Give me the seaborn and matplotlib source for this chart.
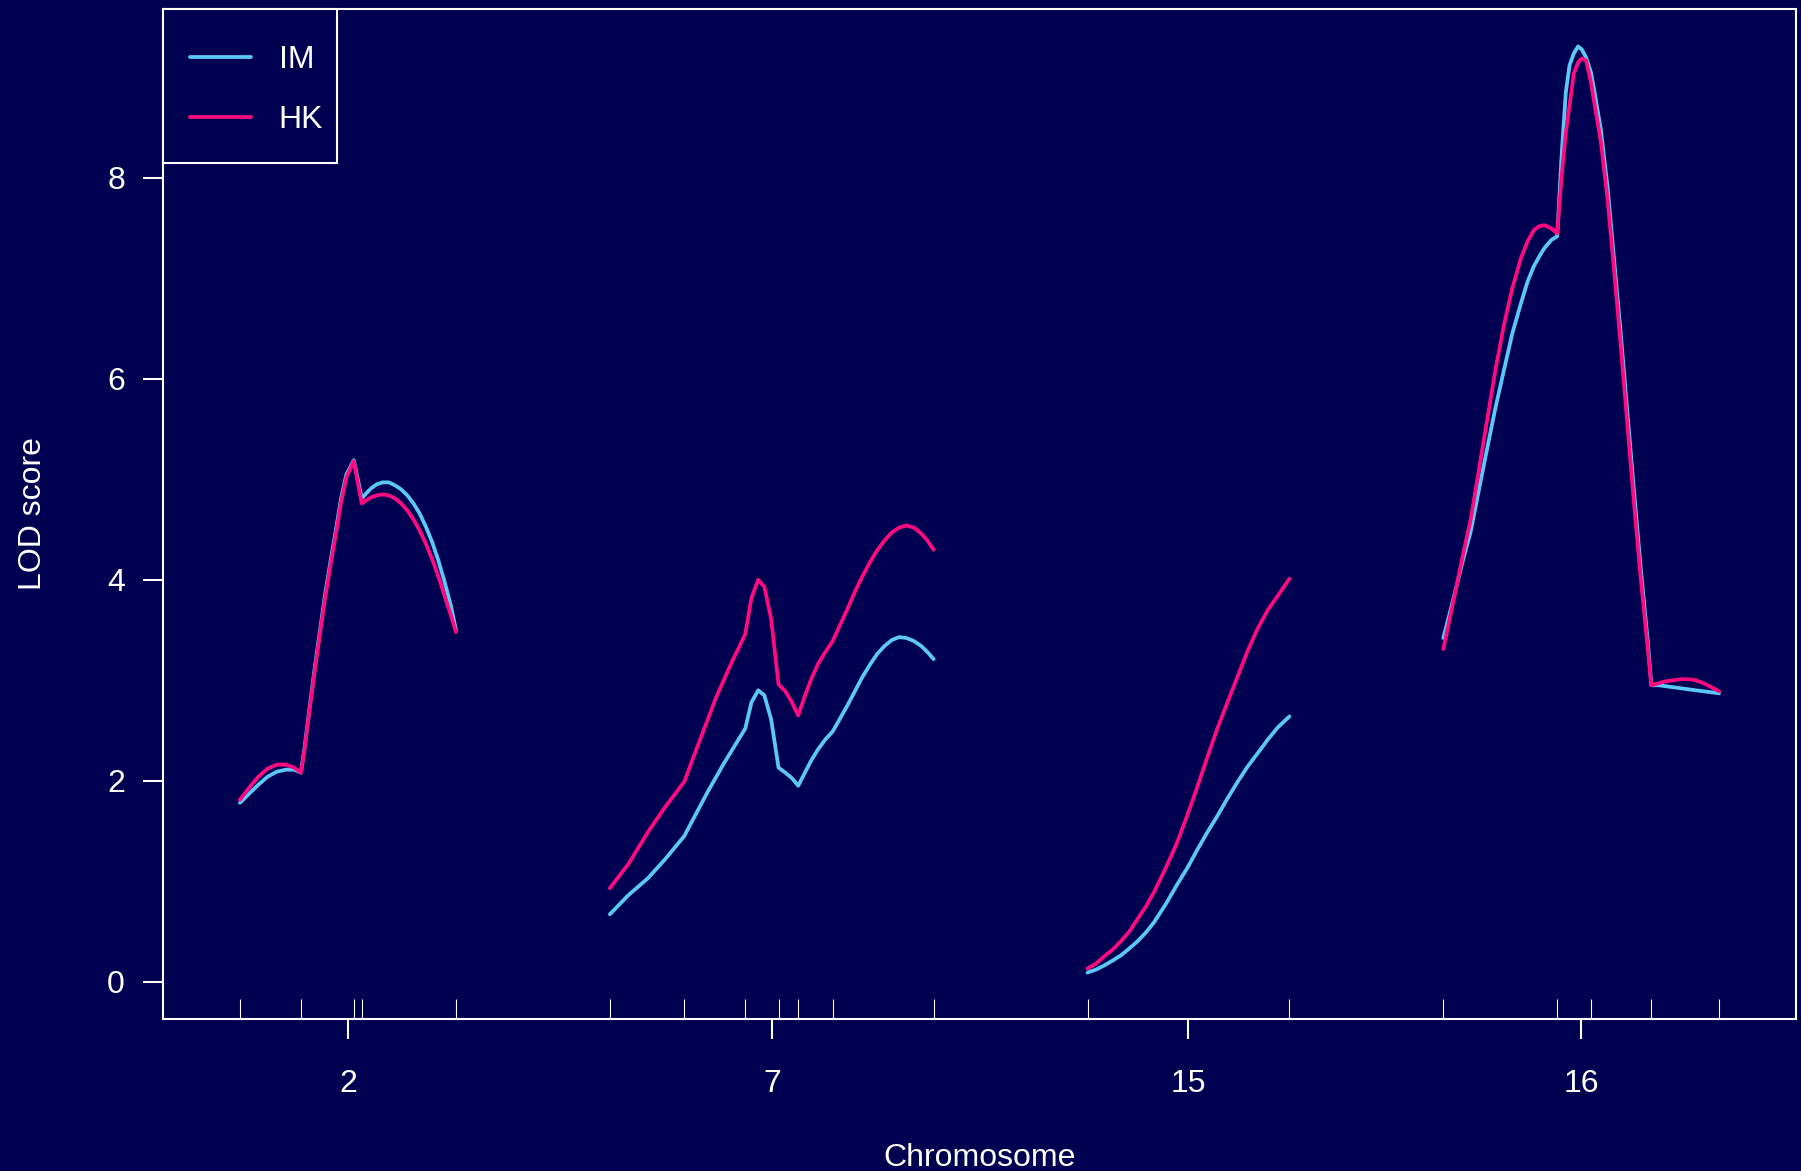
import numpy as np
import pandas as pd
import matplotlib
matplotlib.use("Agg")
import matplotlib.pyplot as plt
from matplotlib.lines import Line2D
from matplotlib.patches import Rectangle
from matplotlib.ticker import FixedLocator
import seaborn as sns

# ---------------- data ----------------
chrom_names = ["2", "7", "15", "16"]
chrom_lengths = [35.1, 52.6, 32.8, 44.8]

markers_2 = [0, 9.9, 18.5, 19.8, 35.1]
markers_7 = [0, 12.1, 22.0, 27.4, 30.6, 36.2, 52.6]
markers_15 = [0, 32.8]
markers_16 = [0, 18.5, 24.0, 33.8, 44.8]

pos_2 = [0, 1.5, 3.0, 4.5, 6.0, 7.5, 8.8, 9.9, 10.5, 11.3, 12.1, 12.9, 13.8, 14.7, 15.6,
         16.4, 17.3, 18.5, 19.8, 20.5, 21.3, 22.2, 23.2, 24.2, 25.2, 26.2, 27.2, 28.2,
         29.2, 30.2, 31.2, 32.2, 33.2, 34.2, 35.1]
im_2 = [1.78, 1.87, 1.96, 2.04, 2.09, 2.11, 2.11, 2.08, 2.33, 2.72, 3.10, 3.45, 3.84, 4.18, 4.50,
        4.80, 5.05, 5.19, 4.81, 4.86, 4.91, 4.95, 4.97, 4.97, 4.94, 4.90, 4.84, 4.76,
        4.66, 4.53, 4.38, 4.20, 3.99, 3.76, 3.50]
hk_2 = [1.81, 1.93, 2.04, 2.12, 2.16, 2.16, 2.13, 2.08, 2.31, 2.70, 3.07, 3.42, 3.80, 4.14, 4.46,
        4.76, 5.02, 5.18, 4.76, 4.79, 4.82, 4.84, 4.85, 4.84, 4.81, 4.76, 4.69, 4.60,
        4.49, 4.36, 4.21, 4.04, 3.85, 3.66, 3.48]

pos_7 = [0, 3.0, 6.2, 9.0, 12.1, 13.3, 14.6, 15.9, 17.2, 18.5, 19.8, 21.0, 22.0, 23.0, 24.1,
         25.1, 26.2, 27.4, 28.5, 29.5, 30.6, 31.6, 32.7, 33.8, 35.0, 36.2, 37.4, 38.6, 39.8,
         41.0, 42.2, 43.4, 44.6, 45.8, 47.0, 48.2, 49.4, 50.6, 51.6, 52.6]
im_7 = [0.67, 0.86, 1.03, 1.22, 1.45, 1.59, 1.74, 1.89, 2.03, 2.17, 2.30, 2.42, 2.52, 2.78, 2.90,
        2.85, 2.61, 2.13, 2.08, 2.03, 1.95, 2.07, 2.20, 2.31, 2.41, 2.49, 2.62, 2.75, 2.89,
        3.03, 3.15, 3.26, 3.34, 3.40, 3.43, 3.42, 3.39, 3.34, 3.28, 3.21]
hk_7 = [0.93, 1.17, 1.49, 1.74, 1.99, 2.19, 2.40, 2.61, 2.82, 3.00, 3.18, 3.33, 3.46, 3.82, 4.00,
        3.93, 3.61, 2.96, 2.89, 2.79, 2.65, 2.83, 3.01, 3.16, 3.28, 3.39, 3.55, 3.71, 3.88,
        4.03, 4.17, 4.29, 4.39, 4.47, 4.52, 4.54, 4.52, 4.46, 4.39, 4.30]

pos_15 = [0, 1.4, 2.7, 4.1, 5.4, 6.8, 8.1, 9.5, 10.8, 12.7, 14.6, 16.3, 17.9, 19.5, 21.1,
          22.8, 24.4, 26.0, 27.6, 29.3, 30.9, 32.8]
im_15 = [0.09, 0.12, 0.16, 0.21, 0.26, 0.33, 0.40, 0.49, 0.59, 0.77, 0.97, 1.14, 1.32, 1.49, 1.65,
         1.83, 1.99, 2.14, 2.27, 2.41, 2.53, 2.64]
hk_15 = [0.13, 0.18, 0.25, 0.32, 0.40, 0.50, 0.62, 0.75, 0.89, 1.13, 1.39, 1.67, 1.95, 2.24, 2.52,
         2.79, 3.04, 3.29, 3.51, 3.70, 3.84, 4.01]

pos_16 = [0, 1.1, 2.2, 3.3, 4.45, 5.8, 7.2, 8.5, 9.9, 11.2, 12.6, 13.7, 14.7, 15.6, 16.4, 17.5,
          18.5, 19.2, 19.9, 20.5, 21.2, 21.9, 22.5, 23.2, 24.0, 24.5, 25.6, 26.7, 27.7, 28.8,
          29.9, 31.0, 32.1, 33.2, 33.8, 35.0, 36.2, 37.4, 38.6, 39.8, 41.0, 42.3, 43.6, 44.8]
im_16 = [3.42, 3.68, 3.95, 4.22, 4.48, 4.90, 5.33, 5.72, 6.10, 6.45, 6.75, 6.97, 7.12, 7.22, 7.30,
         7.38, 7.42, 8.20, 8.85, 9.12, 9.24, 9.31, 9.28, 9.20, 9.05, 8.88, 8.48, 7.90, 7.22,
         6.47, 5.67, 4.87, 4.10, 3.40, 2.95, 2.95, 2.94, 2.93, 2.92, 2.91, 2.90, 2.89, 2.88, 2.87]
hk_16 = [3.31, 3.63, 3.95, 4.28, 4.60, 5.10, 5.62, 6.10, 6.55, 6.90, 7.20, 7.37, 7.48, 7.52, 7.53,
         7.50, 7.45, 8.00, 8.45, 8.72, 9.04, 9.15, 9.19, 9.17, 8.95, 8.76, 8.36, 7.78, 7.11,
         6.35, 5.55, 4.75, 4.00, 3.33, 2.95, 2.97, 2.99, 3.00, 3.01, 3.01, 3.00, 2.97, 2.93, 2.89]

methods = ["IM", "HK"]
xlabel = "Chromosome"
ylabel = "LOD score"
yticks = [0, 2, 4, 6, 8]

# ---------------- layout / style ----------------
GAP = 25.0
BG = "#000050"
FG = "white"
palette = {"IM": "#5CC8F8", "HK": "#FF0A80"}
LW = 2.7
FS = 23

positions = [pos_2, pos_7, pos_15, pos_16]
im_vals = [im_2, im_7, im_15, im_16]
hk_vals = [hk_2, hk_7, hk_15, hk_16]
markers = [markers_2, markers_7, markers_15, markers_16]

offsets = []
cur = 0.0
for L in chrom_lengths:
    offsets.append(cur)
    cur += L + GAP
total_end = offsets[-1] + chrom_lengths[-1]

rows = []
for name, off, p, im, hk in zip(chrom_names, offsets, positions, im_vals, hk_vals):
    for x, v in zip(p, im):
        rows.append({"chrom": name, "pos": off + x, "lod": v, "method": "IM"})
    for x, v in zip(p, hk):
        rows.append({"chrom": name, "pos": off + x, "lod": v, "method": "HK"})
df = pd.DataFrame(rows)

sns.set_theme(style="white")
plt.rcParams["font.family"] = ["Liberation Sans", "DejaVu Sans"]

W, H = 1801, 1171
AX_L, AX_R, AX_T, AX_B = 163, 1796, 9, 1019
AW, AH = AX_R - AX_L, AX_B - AX_T

fig = plt.figure(figsize=(W / 100, H / 100), dpi=100, facecolor=BG)
ax = fig.add_axes([AX_L / W, 1 - AX_B / H, AW / W, AH / H])
ax.set_facecolor(BG)

sns.lineplot(data=df, x="pos", y="lod", hue="method", hue_order=methods,
             units="chrom", estimator=None, sort=False, palette=palette,
             linewidth=LW, legend=False, ax=ax)
for ln in ax.get_lines():
    ln.set_solid_joinstyle("round")
    ln.set_solid_capstyle("round")

ymax = max(max(max(a) for a in im_vals), max(max(a) for a in hk_vals))
ax.set_xlim(-GAP / 2, total_end + GAP / 2)
ax.set_ylim(-0.04 * ymax, 1.04 * ymax)

for s in ax.spines.values():
    s.set_color(FG)
    s.set_linewidth(1.5)

# y axis
ax.set_yticks(yticks)
ax.set_yticklabels([str(t) for t in yticks])
ax.tick_params(axis="y", which="major", direction="out", length=14.4, width=1.5,
               color=FG, labelcolor=FG, labelsize=FS, pad=13, left=True)

# x axis: chromosome centres (major) and marker positions (minor, inward)
centres = [off + L / 2 for off, L in zip(offsets, chrom_lengths)]
ax.set_xticks(centres)
ax.set_xticklabels(chrom_names)
mk = [off + m for off, ms in zip(offsets, markers) for m in ms]
ax.xaxis.set_minor_locator(FixedLocator(mk))
ax.xaxis.remove_overlapping_locs = False
ax.tick_params(axis="x", which="major", direction="out", length=14.4, width=1.5,
               color=FG, labelcolor=FG, labelsize=FS, pad=21.5, bottom=True)
ax.tick_params(axis="x", which="minor", direction="in", length=14.4, width=0.8,
               color=FG, bottom=True)

ax.set_xlabel(xlabel, color=FG, fontsize=FS, va="center")
ax.set_ylabel(ylabel, color=FG, fontsize=FS, ha="center", va="center")
ax.xaxis.set_label_coords(0.5, -(1158 - AX_B) / AH)
ax.yaxis.set_label_coords(-(AX_L - 33) / AW, 0.5)

# legend: R-style box in the top-left corner
box_w, box_h = 174, 154
ax.add_patch(Rectangle((0, 1 - box_h / AH), box_w / AW, box_h / AH, transform=ax.transAxes,
                       facecolor=BG, edgecolor=FG, linewidth=1.5, zorder=4, clip_on=False))
handles = [Line2D([], [], color=palette[m], linewidth=LW, solid_capstyle="round") for m in methods]
leg = ax.legend(handles, methods, loc="upper left",
                bbox_to_anchor=((190 - AX_L) / AW, 1 - (45 - AX_T) / AH),
                borderaxespad=0, borderpad=0, frameon=False, fontsize=FS,
                handlelength=1.9, handletextpad=0.88, labelspacing=0.93)
leg.set_zorder(5)
for t in leg.get_texts():
    t.set_color(FG)

fig.savefig("out.png", dpi=100, facecolor=BG)
